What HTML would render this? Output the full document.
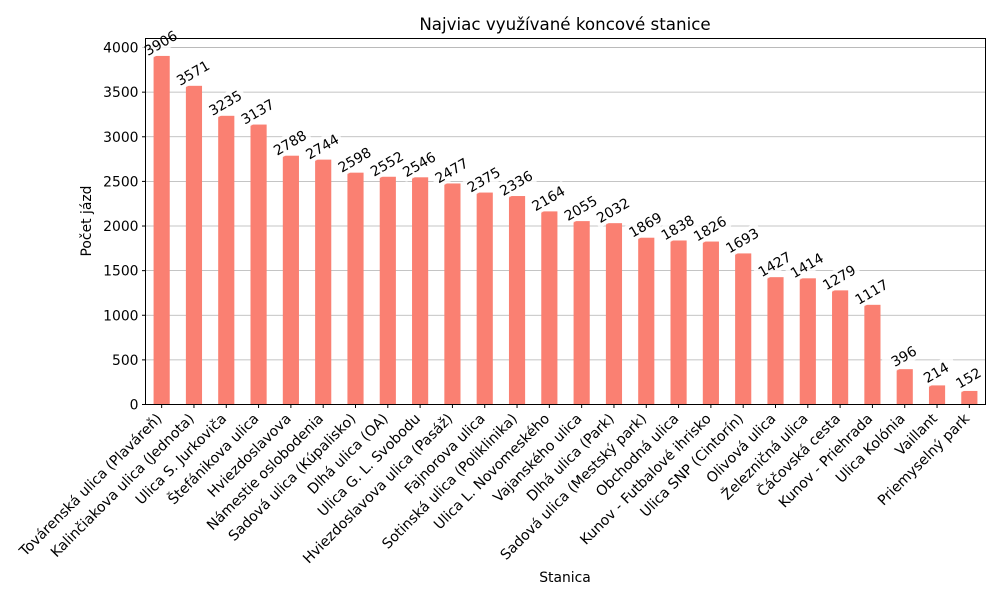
<!DOCTYPE html>
<html><head><meta charset="utf-8"><style>
body{margin:0;background:#fff;}
svg{display:block;font-family:"DejaVu Sans","Liberation Sans",sans-serif;}
</style></head><body>
<svg id="chart" width="1000" height="600" viewBox="0 0 1000 600" xmlns="http://www.w3.org/2000/svg">
<rect width="1000" height="600" fill="#fff"/>
<text x="565" y="30" font-size="16.7" text-anchor="middle">Najviac využívané koncové stanice</text>
<text transform="translate(91,221) rotate(-90)" font-size="13.9" text-anchor="middle">Počet jázd</text>
<text x="565" y="582" font-size="13.9" text-anchor="middle">Stanica</text>
<g id="grid"></g><g id="bars"></g><g id="ticks"></g><g id="labels"></g>
<rect x="145.5" y="38.5" width="840" height="366" fill="none" stroke="#000" stroke-width="1"/>
</svg>
<script>
const categories = ["Továrenská ulica (Plaváreň)","Kalinčiakova ulica (Jednota)","Ulica S. Jurkoviča","Štefánikova ulica","Hviezdoslavova","Námestie oslobodenia","Sadová ulica (Kúpalisko)","Dlhá ulica (OA)","Ulica G. L. Svobodu","Hviezdoslavova ulica (Pasáž)","Fajnorova ulica","Sotinská ulica (Poliklinika)","Ulica L. Novomeského","Vajanského ulica","Dlhá ulica (Park)","Sadová ulica (Mestský park)","Obchodná ulica","Kunov - Futbalové ihrisko","Ulica SNP (Cintorín)","Olivová ulica","Železničná ulica","Čáčovská cesta","Kunov - Priehrada","Ulica Kolónia","Vaillant","Priemyselný park"];
const values = [3906,3571,3235,3137,2788,2744,2598,2552,2546,2477,2375,2336,2164,2055,2032,1869,1838,1826,1693,1427,1414,1279,1117,396,214,152];
const yTicks = [0,500,1000,1500,2000,2500,3000,3500,4000];
const NS="http://www.w3.org/2000/svg";
const L=145.5,R=985.5,T=38.5,B=404.5;
const n=categories.length;
const ymax=Math.max(...values)*1.05;
const x=i=>L+(i+0.5)*(R-L)/n;
const bw=0.5*(R-L)/n;
const y=v=>B-(v/ymax)*(B-T);
function mk(tag,attrs,parent){const e=document.createElementNS(NS,tag);for(const k in attrs)e.setAttribute(k,attrs[k]);document.getElementById(parent).appendChild(e);return e;}
yTicks.forEach(t=>{
  const g=mk('line',{x1:L,x2:R,y1:y(t),y2:y(t),stroke:'#b0b0b0','stroke-width':0.8},'grid');
  
  
  const tk=mk('line',{x1:L-3.5,x2:L,y1:y(t),y2:y(t),stroke:'#000'},'ticks');
  
  
  const tl=mk('text',{x:L-7,y:y(t)+5,'font-size':13.9,'text-anchor':'end'},'ticks');
  tl.textContent=t;
  
  
});
values.forEach((v,i)=>{
  const cx=x(i);
  const b=mk('rect',{x:cx-bw/2,y:y(v),width:bw,height:B-y(v),fill:'#fa8072'},'bars');
  
  
  const tk=mk('line',{x1:cx,x2:cx,y1:B,y2:B+3.5,stroke:'#000'},'ticks');
  
  
  const tl=mk('text',{transform:`translate(${cx+1},${B+15}) rotate(-45)`,'font-size':14.2,'text-anchor':'end'},'ticks');
  tl.textContent=categories[i];
  
  
  const g=mk('g',{transform:`translate(${cx-1},${y(v)-13}) rotate(-30)`},'labels');
  
  
  const bg=document.createElementNS(NS,'rect');
  bg.setAttribute('x',-21);bg.setAttribute('y',-9);bg.setAttribute('width',42);bg.setAttribute('height',18);bg.setAttribute('rx',3);bg.setAttribute('fill','#fff');bg.setAttribute('opacity','0.8');
  g.appendChild(bg);
  const t=document.createElementNS(NS,'text');
  t.setAttribute('y',5);t.setAttribute('font-size',13.9);t.setAttribute('text-anchor','middle');
  t.textContent=v;
  g.appendChild(t);
});
</script>
</body></html>
